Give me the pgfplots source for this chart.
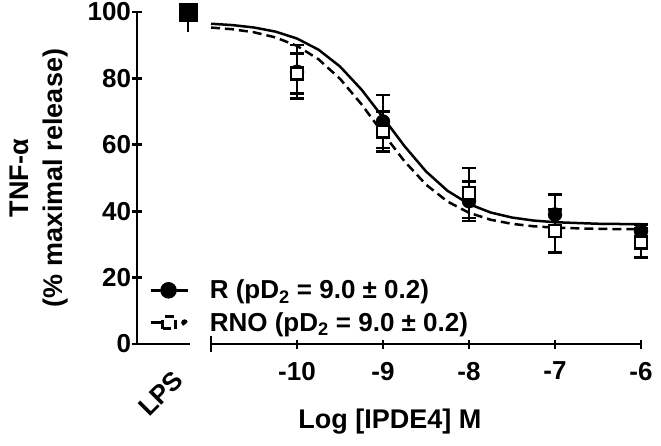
\documentclass[border=0pt]{standalone}
\usepackage{fontspec}
\setmainfont{Liberation Sans}
\usepackage{pgfplots}
\pgfplotsset{compat=1.18}

\pgfplotsset{
  refaxis/.style={
    scale only axis, height=332pt, ymin=0, ymax=100,
    axis line style={line width=2.8pt},
    every tick/.style={line width=2.8pt, black},
    tick align=outside, major tick length=9pt,
    tick label style={font=\fontsize{26}{30}\selectfont\bfseries},
    label style={font=\fontsize{27}{34}\selectfont\bfseries},
    clip=false,
  },
  ebar/.style={error bars/.cd, y dir=both, y explicit,
    error bar style={line width=2.5pt},
    error mark options={rotate=90, mark size=7pt, line width=2.5pt}},
}

\begin{document}
\begin{tikzpicture}
\path[use as bounding box] (0,0) rectangle (661pt,445pt);

% LPS segment with the y axis
\begin{axis}[refaxis,
  at={(137pt,101pt)}, anchor=south west,
  width=53pt, xmin=0, xmax=1,
  axis x line=bottom, axis y line=left,
  x axis line style={-}, y axis line style={-},
  xtick={0.96}, xticklabels={LPS},
  xtick style={draw=none},
  xticklabel style={rotate=45, anchor=north east, xshift=-22pt, yshift=0pt},
  ytick={0,20,40,60,80,100}, yticklabels={0,20,40,60,80,100},
  yticklabel style={xshift=2pt},
  ylabel={TNF-α\\(\% maximal release)},
  ylabel style={align=center, yshift=13pt},
]
\addplot[only marks, mark=square*, mark size=9pt, black,
  error bars/.cd, y dir=minus, y explicit, error mark=none,
  error bar style={line width=2.5pt}]
  coordinates {(0.96,100) -= (0,6)};
\end{axis}

% concentration axis
\begin{axis}[refaxis,
  at={(211pt,101pt)}, anchor=south west,
  width=430pt, xmin=-11, xmax=-6,
  axis x line=bottom, axis y line=none,
  x axis line style={-},
  xtick={-10,-9,-8,-7,-6}, xticklabels={-10,-9,-8,-7,-6},
  xticklabel style={yshift=-10pt},
  extra x ticks={-11}, extra x tick labels={},
  extra x tick style={tick align=center, major tick length=16pt},
  ytick=\empty,
  xlabel={Log [IPDE4] M},
  xlabel style={at={(ticklabel cs:0.416)}, anchor=near ticklabel, yshift=-9pt},
  legend style={at={(axis description cs:-0.144,0.199)}, anchor=north west,
    draw=none, fill=none, inner sep=0pt, row sep=8pt, column sep=19pt,
    font=\fontsize{26}{30}\selectfont\bfseries},
  legend cell align=left,
]
\addplot[black, line width=2.5pt,
  legend image code/.code={
    \draw[black, line width=2.5pt] (0pt,0pt) -- (37pt,0pt);
    \fill[black] (18pt,0pt) circle (7pt);}]
  coordinates {
  (-11,96.46) (-10.75,96.05) (-10.5,95.33) (-10.25,94.09) (-10,92.01)
  (-9.75,88.65) (-9.5,83.59) (-9.25,76.63) (-9,68.25) (-8.75,59.60)
  (-8.5,51.98) (-8.25,46.15) (-8,42.15) (-7.75,39.62) (-7.5,38.09)
  (-7.25,37.19) (-7,36.68) (-6.5,36.22) (-6,36.07)};
\addlegendentry{R (pD\textsubscript{2} = 9.0 ± 0.2)}
\addplot[black, line width=2.5pt, dash pattern=on 9pt off 5pt,
  legend image code/.code={
    \draw[black, line width=2.5pt, dash pattern=on 11pt off 26pt] (0pt,0pt) -- (37pt,0pt);
    \fill[black] (34pt,0pt) circle (2pt);
    \draw[black, line width=2.5pt, fill=white] (12pt,-6pt) rectangle (25pt,6pt);}]
  coordinates {
  (-11,95.32) (-10.75,94.80) (-10.5,93.89) (-10.25,92.35) (-10,89.80)
  (-9.75,85.77) (-9.5,79.89) (-9.25,72.21) (-9,63.48) (-8.75,55.03)
  (-8.5,48.02) (-8.25,42.91) (-8,39.53) (-7.75,37.44) (-7.5,36.19)
  (-7.25,35.46) (-7,35.04) (-6.5,34.67) (-6,34.55)};
\addlegendentry{RNO (pD\textsubscript{2} = 9.0 ± 0.2)}

% R data
\addplot[black, only marks, mark=*, mark size=7pt, forget plot, ebar]
  coordinates {
  (-10,82) +- (0,8) (-9,67) +- (0,8) (-8,43) +- (0,6)
  (-7,39) +- (0,6) (-6,34) +- (0,2)};
% RNO data
\addplot[black, only marks, mark=square*, mark size=6pt,
  mark options={fill=white, line width=2.5pt}, forget plot, ebar]
  coordinates {
  (-10,81.5) +- (0,6) (-9,64) +- (0,6) (-8,45.5) +- (0,7.5)
  (-7,34) +- (0,6.5) (-6,30.5) +- (0,4.5)};
\end{axis}
\end{tikzpicture}
\end{document}
